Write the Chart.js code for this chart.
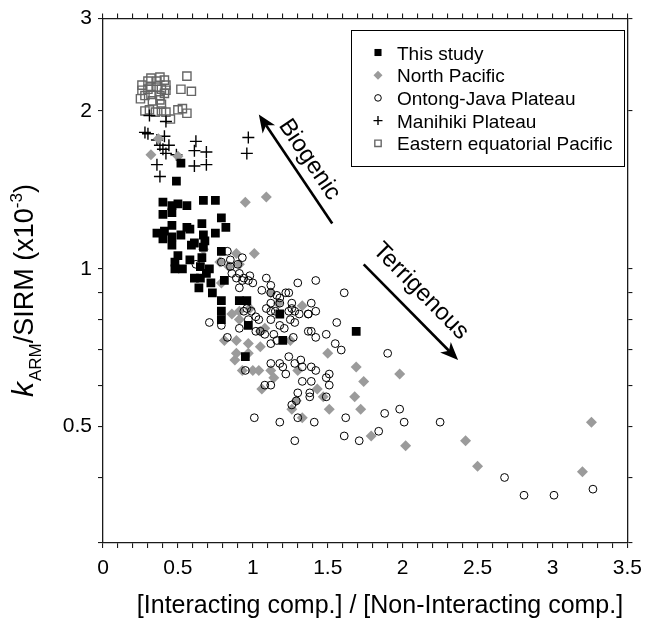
<!DOCTYPE html>
<html>
<head>
<meta charset="utf-8">
<script src="https://cdn.jsdelivr.net/npm/chart.js@4.4.1/dist/chart.umd.min.js"></script>
<style>
  html, body { margin: 0; padding: 0; background: #fff; }
</style>
</head>
<body>
<canvas id="chart" width="650" height="622"></canvas>
<script>
// ---- data ----
const seriesNames = ["This study", "North Pacific", "Ontong-Java Plateau", "Manihiki Plateau", "Eastern equatorial Pacific"];

const thisStudyX = [0.52,0.49,0.40,0.46,0.50,0.56,0.67,0.75,0.40,0.46,0.56,0.66,0.79,0.82,0.75,0.36,0.41,0.40,0.46,0.46,0.52,0.58,0.59,0.61,0.67,0.68,0.67,0.79,0.50,0.48,0.48,0.53,0.58,0.66,0.65,0.71,0.61,0.65,0.69,0.72,0.81,0.64,0.73,0.79,0.91,0.96,0.79,0.79,0.97,1.18,1.20,0.95,1.69,0.46];
const thisStudyY = [1.59,1.47,1.34,1.32,1.33,1.32,1.35,1.35,1.27,1.21,1.20,1.22,1.25,1.20,1.17,1.17,1.18,1.14,1.15,1.11,1.16,1.19,1.11,1.12,1.16,1.13,1.10,1.08,1.06,1.03,1.00,1.00,1.04,1.05,1.01,1.00,0.96,0.96,0.98,0.94,0.95,0.92,0.90,0.87,0.87,0.87,0.83,0.80,0.78,0.82,0.73,0.68,0.76,1.28];

const northPacificX = [0.32,0.37,0.50,0.95,1.09,0.67,0.89,1.01,0.78,0.91,0.84,0.79,0.86,0.91,0.98,1.33,0.91,1.12,1.17,1.08,1.05,0.81,0.89,0.97,1.05,0.88,0.93,1.00,1.04,1.12,1.14,1.06,1.25,1.50,1.30,1.69,1.98,1.74,1.43,1.47,1.68,1.29,1.72,1.51,1.26,1.33,1.79,2.02,2.42,2.50,3.20,3.26,0.97,0.89];
const northPacificY = [1.65,1.77,1.64,1.34,1.37,1.09,1.07,1.07,1.03,1.02,1.01,0.94,0.82,0.83,0.84,0.85,0.80,0.90,0.86,0.77,0.76,0.73,0.73,0.72,0.71,0.67,0.64,0.64,0.64,0.64,0.62,0.59,0.73,0.69,0.64,0.65,0.63,0.61,0.59,0.57,0.57,0.56,0.54,0.54,0.54,0.52,0.48,0.46,0.47,0.42,0.41,0.51,0.69,0.69];

const ontongJavaX = [0.83,0.93,0.85,0.79,0.90,0.62,0.85,0.91,0.86,0.98,0.89,1.09,0.94,0.97,1.00,0.93,0.91,1.30,1.42,1.12,1.06,1.22,1.12,1.16,1.18,1.61,1.24,1.26,1.39,1.18,1.12,1.09,1.12,1.15,1.24,1.28,1.31,1.42,1.37,0.96,0.99,0.94,0.97,1.02,1.04,1.12,1.25,1.28,1.56,0.71,0.79,0.91,1.18,1.21,1.02,1.05,1.14,1.37,1.39,1.49,1.42,1.27,1.08,0.83,1.55,1.59,1.12,1.16,1.24,1.90,1.28,1.12,1.18,1.20,1.32,1.33,1.39,1.42,1.51,1.49,1.22,0.95,1.39,1.33,1.51,1.08,1.12,1.30,1.38,1.38,1.49,1.29,1.26,1.30,1.41,1.62,1.88,1.98,2.01,2.25,1.61,1.71,1.84,1.28,1.01,1.18,2.68,2.81,3.01,3.27,1.26,1.37];
const ontongJavaY = [1.08,1.05,1.04,1.03,1.02,1.02,1.01,0.98,0.98,0.97,0.96,0.96,0.96,0.95,0.94,0.95,0.92,0.94,0.95,0.93,0.91,0.90,0.90,0.89,0.88,0.90,0.90,0.86,0.86,0.86,0.86,0.84,0.83,0.83,0.83,0.83,0.82,0.83,0.82,0.84,0.83,0.83,0.80,0.81,0.80,0.80,0.80,0.79,0.79,0.79,0.78,0.77,0.78,0.77,0.76,0.76,0.75,0.76,0.76,0.75,0.74,0.74,0.75,0.74,0.72,0.70,0.72,0.73,0.68,0.69,0.66,0.66,0.66,0.65,0.67,0.65,0.65,0.64,0.63,0.62,0.63,0.64,0.61,0.61,0.60,0.60,0.60,0.58,0.58,0.57,0.57,0.56,0.55,0.52,0.51,0.52,0.53,0.54,0.51,0.51,0.48,0.47,0.49,0.47,0.52,0.51,0.40,0.37,0.37,0.38,0.84,0.82];

const manihikiX = [0.31,0.42,0.28,0.30,0.36,0.41,0.38,0.44,0.40,0.42,0.49,0.62,0.61,0.69,0.36,0.61,0.69,0.38,0.97,0.96];
const manihikiY = [1.96,1.91,1.82,1.81,1.76,1.79,1.72,1.72,1.69,1.66,1.65,1.75,1.68,1.67,1.58,1.57,1.58,1.50,1.78,1.66];

const eastEqPacX = [0.26,0.30,0.32,0.36,0.38,0.41,0.56,0.26,0.30,0.32,0.36,0.39,0.42,0.42,0.52,0.59,0.28,0.32,0.38,0.41,0.25,0.33,0.38,0.28,0.31,0.35,0.39,0.42,0.50,0.53,0.56,0.45,0.39];
const eastEqPacY = [2.24,2.28,2.31,2.28,2.32,2.29,2.33,2.19,2.20,2.22,2.22,2.20,2.24,2.19,2.20,2.18,2.14,2.15,2.14,2.16,2.11,2.09,2.10,2.00,2.01,1.99,2.00,1.99,2.01,2.02,1.98,1.93,2.06];

// axes
const xTickLabels = [0, 0.5, 1, 1.5, 2, 2.5, 3, 3.5];
const yTickValues = [0.3, 0.4, 0.5, 0.6, 0.7, 0.8, 0.9, 1, 2, 3];
const yTickLabels = [0.5, 1, 2, 3];

// arrow annotations: [tailX, tailY, tipX, tipY] in data units
const biogenicArrow = [1.53, 1.22, 1.04, 1.97];
const terrigenousArrow = [1.74, 1.02, 2.37, 0.67];

const FONT = "'Liberation Sans', Arial, Helvetica, sans-serif";
Chart.defaults.font.family = FONT;
Chart.defaults.color = "#000";

function pts(xs, ys) {
  return xs.map((x, i) => ({ x: x, y: ys[i] }));
}

const styles = [
  { pointStyle: "rect", radius: 6.2, bg: "#000", border: "#000", bw: 0, legendR: 5 },
  { pointStyle: "rectRot", radius: 5.5, bg: "#9b9b9b", border: "#9b9b9b", bw: 0, legendR: 4.5 },
  { pointStyle: "circle", radius: 3.9, bg: "rgba(255,255,255,0)", border: "#000", bw: 1, legendR: 3.3 },
  { pointStyle: "cross", radius: 6, bg: "#000", border: "#000", bw: 1.4, legendR: 4.5 },
  { pointStyle: "rect", radius: 5.8, bg: "rgba(255,255,255,0)", border: "#666", bw: 1.4, legendR: 4.5 }
];
const seriesData = [
  pts(thisStudyX, thisStudyY),
  pts(northPacificX, northPacificY),
  pts(ontongJavaX, ontongJavaY),
  pts(manihikiX, manihikiY),
  pts(eastEqPacX, eastEqPacY)
];
const drawOrder = [0, 2, 1, 3, 4]; // lower = drawn on top

const datasets = seriesNames.map((name, i) => ({
  label: name,
  data: seriesData[i],
  order: drawOrder[i],
  pointStyle: styles[i].pointStyle,
  pointRadius: styles[i].radius,
  pointHoverRadius: styles[i].radius,
  backgroundColor: styles[i].bg,
  borderColor: styles[i].border,
  borderWidth: styles[i].bw,
  showLine: false
}));

const axisLine = "#1a1a1a";
function gridOpts() {
  return { drawOnChartArea: false, drawTicks: true, tickLength: 5, color: axisLine, lineWidth: 1.1 };
}
function xTicks(scale) {
  scale.ticks = scale.ticks.map(t => ({ value: Math.round(t.value * 10) / 10 }));
}
function yTicks(scale) {
  scale.ticks = yTickValues.map(v => ({ value: v }));
}

function drawArrow(ctx, x0, y0, x1, y1) {
  const ang = Math.atan2(y1 - y0, x1 - x0);
  const head = 18, half = 7.5, notch = 13;
  const c = Math.cos(ang), s = Math.sin(ang);
  ctx.beginPath();
  ctx.moveTo(x0, y0);
  ctx.lineTo(x1 - notch * c, y1 - notch * s);
  ctx.lineWidth = 2.6;
  ctx.stroke();
  const bx = x1 - head * c, by = y1 - head * s;
  ctx.beginPath();
  ctx.moveTo(x1, y1);
  ctx.lineTo(bx + half * s, by - half * c);
  ctx.lineTo(x1 - notch * c, y1 - notch * s);
  ctx.lineTo(bx - half * s, by + half * c);
  ctx.closePath();
  ctx.fill();
}

function arrowLabel(ctx, x0, y0, x1, y1, text, along, perp) {
  // text runs from upper-left to lower-right, placed above the arrow line
  let ang = Math.atan2(y1 - y0, x1 - x0);
  if (Math.cos(ang) < 0) ang += Math.PI;
  ctx.save();
  ctx.translate((x0 + x1) / 2, (y0 + y1) / 2);
  ctx.rotate(ang);
  ctx.font = "24px " + FONT;
  ctx.textAlign = "center";
  ctx.textBaseline = "alphabetic";
  ctx.fillText(text, along, -perp);
  ctx.restore();
}

function legendSymbol(ctx, st, x, y) {
  const r = st.legendR;
  ctx.save();
  ctx.fillStyle = st.bg;
  ctx.strokeStyle = st.border;
  ctx.lineWidth = st.bw || 1;
  ctx.beginPath();
  if (st.pointStyle === "rect") {
    const h = r * Math.SQRT1_2;
    ctx.rect(x - h, y - h, 2 * h, 2 * h);
  } else if (st.pointStyle === "rectRot") {
    ctx.moveTo(x, y - r); ctx.lineTo(x + r, y); ctx.lineTo(x, y + r); ctx.lineTo(x - r, y); ctx.closePath();
  } else if (st.pointStyle === "circle") {
    ctx.arc(x, y, r, 0, Math.PI * 2);
  } else if (st.pointStyle === "cross") {
    ctx.moveTo(x - r, y); ctx.lineTo(x + r, y); ctx.moveTo(x, y - r); ctx.lineTo(x, y + r);
    ctx.stroke();
    ctx.restore();
    return;
  }
  ctx.fill();
  if (st.bw > 0) ctx.stroke();
  ctx.restore();
}

const overlay = {
  id: "overlay",
  afterDraw(chart) {
    const ctx = chart.ctx;
    const sx = chart.scales.x, sy = chart.scales.y;
    ctx.save();
    ctx.fillStyle = "#000";
    ctx.strokeStyle = "#000";

    // arrows
    const b = biogenicArrow.map((v, i) => i % 2 ? sy.getPixelForValue(v) : sx.getPixelForValue(v));
    const t = terrigenousArrow.map((v, i) => i % 2 ? sy.getPixelForValue(v) : sx.getPixelForValue(v));
    drawArrow(ctx, b[0], b[1], b[2], b[3]);
    drawArrow(ctx, t[0], t[1], t[2], t[3]);
    arrowLabel(ctx, b[0], b[1], b[2], b[3], "Biogenic", 0, 10);
    arrowLabel(ctx, t[0], t[1], t[2], t[3], "Terrigenous", -8, 15);

    // legend box
    ctx.lineWidth = 1;
    ctx.strokeStyle = "#000";
    ctx.strokeRect(351.5, 30.5, 273, 136);
    ctx.font = "19px " + FONT;
    ctx.textAlign = "left";
    ctx.textBaseline = "alphabetic";
    seriesNames.forEach((name, i) => {
      const base = 59.5 + i * 22.7;
      legendSymbol(ctx, styles[i], 378, base - 7);
      ctx.fillStyle = "#000";
      ctx.fillText(name, 397, base);
    });

    // x axis title
    ctx.font = "25px " + FONT;
    ctx.textAlign = "center";
    ctx.fillText("[Interacting comp.] / [Non-Interacting comp.]", 380, 613);

    // y axis title: k_ARM/SIRM (x10^-3)
    ctx.translate(33, 397);
    ctx.rotate(-Math.PI / 2);
    ctx.textAlign = "left";
    let cx = 0;
    ctx.font = "italic 30px " + FONT;
    ctx.fillText("k", cx, 0);
    cx += ctx.measureText("k").width + 1;
    ctx.font = "17px " + FONT;
    ctx.fillText("ARM", cx, 8);
    cx += ctx.measureText("ARM").width;
    ctx.font = "27px " + FONT;
    ctx.fillText("/SIRM (x10", cx, 0);
    cx += ctx.measureText("/SIRM (x10").width;
    ctx.font = "17px " + FONT;
    ctx.fillText("-3", cx, -11);
    cx += ctx.measureText("-3").width;
    ctx.font = "27px " + FONT;
    ctx.fillText(")", cx, 0);
    ctx.restore();
  }
};

new Chart(document.getElementById("chart"), {
  type: "scatter",
  data: { datasets: datasets },
  plugins: [overlay],
  options: {
    responsive: false,
    animation: false,
    events: [],
    layout: { padding: 0 },
    plugins: { legend: { display: false }, tooltip: { enabled: false } },
    scales: {
      x: {
        type: "linear", position: "bottom", min: 0, max: 3.5,
        grid: gridOpts(),
        border: { display: true, color: axisLine, width: 1.3 },
        ticks: {
          stepSize: 0.1, autoSkip: false, maxRotation: 0, padding: 8,
          font: { size: 21 }, color: "#000",
          callback: v => xTickLabels.includes(Math.round(v * 10) / 10) ? String(Math.round(v * 10) / 10) : ""
        },
        afterBuildTicks: xTicks,
        afterFit: s => { s.height = 79; }
      },
      xTop: {
        type: "linear", position: "top", min: 0, max: 3.5,
        grid: gridOpts(),
        border: { display: true, color: axisLine, width: 1.3 },
        ticks: { stepSize: 0.1, autoSkip: false, display: false },
        afterBuildTicks: xTicks,
        afterFit: s => { s.height = 17; }
      },
      y: {
        type: "logarithmic", position: "left", min: 0.3, max: 3,
        grid: gridOpts(),
        border: { display: true, color: axisLine, width: 1.3 },
        ticks: {
          autoSkip: false, padding: 6, font: { size: 21 }, color: "#000",
          callback: v => yTickLabels.includes(v) ? String(v) : ""
        },
        afterBuildTicks: yTicks,
        afterFit: s => { s.width = 103; }
      },
      yRight: {
        type: "logarithmic", position: "right", min: 0.3, max: 3,
        grid: gridOpts(),
        border: { display: true, color: axisLine, width: 1.3 },
        ticks: { autoSkip: false, display: false },
        afterBuildTicks: yTicks,
        afterFit: s => { s.width = 17; }
      }
    }
  }
});
</script>
</body>
</html>
